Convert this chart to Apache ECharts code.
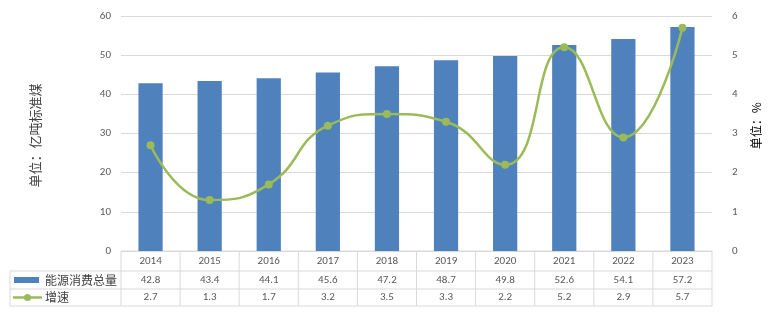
<!DOCTYPE html>
<html><head><meta charset="utf-8">
<script src="https://cdn.jsdelivr.net/npm/echarts@6/dist/echarts.min.js"></script>
<style>html,body{margin:0;padding:0;background:#fff}#c{width:770px;height:327px}</style>
</head><body><div id="c"></div>
<script>
const categories = ['2014','2015','2016','2017','2018','2019','2020','2021','2022','2023'];
const energyTotal = [42.8,43.4,44.1,45.6,47.2,48.7,49.8,52.6,54.1,57.2];
const growthRate = [2.7,1.3,1.7,3.2,3.5,3.3,2.2,5.2,2.9,5.7];
const seriesNames = ['能源消费总量','增速'];
const leftAxisName = '单位：亿吨标准煤';
const rightAxisName = '单位：%';

const FONT = '"Noto Sans CJK SC", "Microsoft YaHei", sans-serif';
const TXT = '#595959';
const BLUE = '#4F81BD', GREEN = '#9BBB59', LINE = '#D9D9D9';

const chart = echarts.init(document.getElementById('c'), null, {renderer:'canvas'});
const option = {
  animation:false,
  textStyle:{fontFamily:FONT},
  grid:{left:121,right:58,top:16,bottom:76,containLabel:false},
  xAxis:{type:'category',data:categories,axisLine:{show:false},axisTick:{show:false},axisLabel:{show:false}},
  yAxis:[
    {type:'value',min:0,max:60,interval:10,
     axisLabel:{color:TXT,fontSize:11,margin:10,fontFamily:'Calibri, Carlito, "Liberation Sans", sans-serif'},
     splitLine:{lineStyle:{color:LINE}},axisLine:{show:false},axisTick:{show:false}},
    {type:'value',min:0,max:6,interval:1,
     axisLabel:{color:TXT,fontSize:11,margin:20,fontFamily:'Calibri, Carlito, "Liberation Sans", sans-serif'},
     splitLine:{show:false},axisLine:{show:false},axisTick:{show:false}}
  ],
  series:[
    {name:seriesNames[0],type:'bar',data:energyTotal,barWidth:'41%',itemStyle:{color:BLUE},yAxisIndex:0},
    {name:seriesNames[1],type:'line',data:growthRate,yAxisIndex:1,smooth:0.5,
     symbol:'circle',symbolSize:8,lineStyle:{color:GREEN,width:2.5},itemStyle:{color:GREEN}}
  ]
};
chart.setOption(option);

function buildTable(){
  const g = [];
  const c0 = chart.convertToPixel({xAxisIndex:0}, categories[0]);
  const c1 = chart.convertToPixel({xAxisIndex:0}, categories[1]);
  const bw = c1 - c0;
  const left = c0 - bw/2;
  const right = chart.convertToPixel({xAxisIndex:0}, categories[categories.length-1]) + bw/2;
  const y0 = chart.convertToPixel({yAxisIndex:0}, 0);
  const rows = [y0, y0+20, y0+38, y0+55];
  const tableLeft = 10;
  g.push({type:'line',shape:{x1:left,y1:rows[0],x2:right,y2:rows[0]},style:{stroke:LINE,lineWidth:1}});
  for (let r=1;r<rows.length;r++) g.push({type:'line',shape:{x1:tableLeft,y1:rows[r],x2:right,y2:rows[r]},style:{stroke:LINE,lineWidth:1}});
  g.push({type:'line',shape:{x1:tableLeft,y1:rows[1],x2:tableLeft,y2:rows[3]},style:{stroke:LINE,lineWidth:1}});
  for (let i=0;i<=categories.length;i++){
    const x = left + i*bw;
    g.push({type:'line',shape:{x1:x,y1:rows[0],x2:x,y2:rows[3]},style:{stroke:LINE,lineWidth:1}});
  }
  const numFont = '11px Calibri, Carlito, "Liberation Sans", sans-serif';
  categories.forEach((cat,i)=>{
    const x = chart.convertToPixel({xAxisIndex:0}, cat);
    g.push({type:'text',x:x,y:(rows[0]+rows[1])/2,style:{text:cat,fill:TXT,font:numFont,align:'center',verticalAlign:'middle'}});
    g.push({type:'text',x:x,y:(rows[1]+rows[2])/2,style:{text:energyTotal[i].toFixed(1),fill:TXT,font:numFont,align:'center',verticalAlign:'middle'}});
    g.push({type:'text',x:x,y:(rows[2]+rows[3])/2,style:{text:growthRate[i].toFixed(1),fill:TXT,font:numFont,align:'center',verticalAlign:'middle'}});
  });
  const m1 = (rows[1]+rows[2])/2, m2 = (rows[2]+rows[3])/2;
  g.push({type:'rect',shape:{x:14,y:m1-3,width:25,height:6},style:{fill:BLUE}});
  g.push({type:'line',shape:{x1:13,y1:m2,x2:42,y2:m2},style:{stroke:GREEN,lineWidth:2.5}});
  g.push({type:'circle',shape:{cx:27.5,cy:m2,r:3.5},style:{fill:GREEN}});
  g.push({type:'text',x:45,y:m1,style:{text:seriesNames[0],fill:'#404040',font:'12px '+FONT,verticalAlign:'middle'}});
  g.push({type:'text',x:45,y:m2,style:{text:seriesNames[1],fill:'#404040',font:'12px '+FONT,verticalAlign:'middle'}});
  const yMid = chart.convertToPixel({yAxisIndex:0}, 30);
  g.push({type:'text',x:35,y:yMid+2,rotation:Math.PI/2,style:{text:leftAxisName,fill:'#404040',font:'13px '+FONT,align:'center',verticalAlign:'middle'}});
  const yMid2 = chart.convertToPixel({yAxisIndex:1}, 3.2);
  g.push({type:'text',x:756,y:yMid2,rotation:Math.PI/2,style:{text:rightAxisName,fill:'#000',font:'12px '+FONT,align:'center',verticalAlign:'middle'}});
  chart.setOption({graphic:g});
}
buildTable();
</script></body></html>
